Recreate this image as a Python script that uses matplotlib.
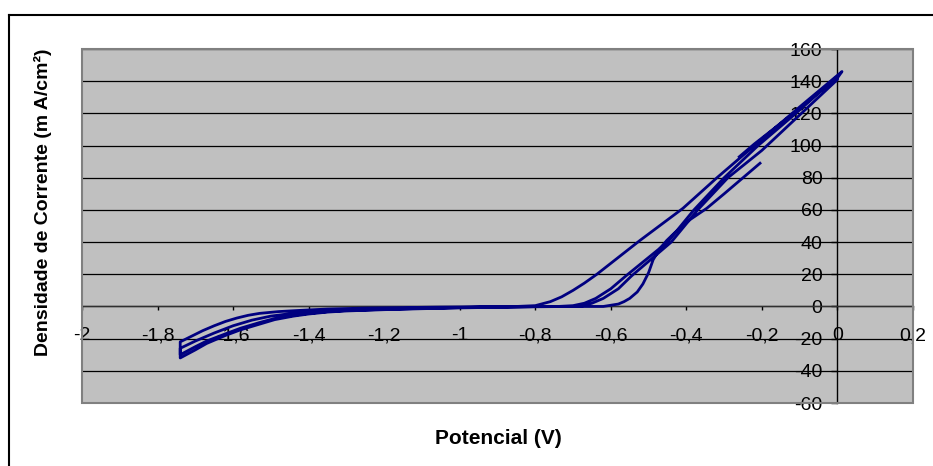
import numpy as np
import matplotlib.pyplot as plt
from matplotlib.ticker import FuncFormatter, MultipleLocator
from matplotlib.patches import Rectangle
from matplotlib.lines import Line2D

plt.rcParams['font.family'] = ['Liberation Sans', 'DejaVu Sans']

### DATA - potential in V, current density in mA/cm2
# start of the record, going up to the vertex
s0_v = [-0.26, -0.22, -0.16, -0.10, -0.05, 0.0, 0.012]
s0_i = [93, 101, 112, 123, 133, 142, 146]

# first return sweep (outermost loop)
rev1_v = [0.012, -0.10, -0.205, -0.319, -0.409, -0.523, -0.637, -0.67, -0.70, -0.73, -0.76, -0.80, -0.85,
          -0.95, -1.05, -1.15, -1.25, -1.35, -1.42, -1.48, -1.53, -1.56, -1.59, -1.62, -1.65, -1.68, -1.71, -1.74]
rev1_i = [146, 124, 103, 80, 61, 41, 20, 14.5, 10, 6, 3, 0.5, 0,
          -0.2, -0.4, -0.7, -1.0, -1.6, -2.4, -3.2, -4.3, -5.5, -7.2, -9.3, -12, -15, -18.5, -22]

# second forward sweep
fwd1_v = [-1.74, -1.70, -1.67, -1.62, -1.58, -1.53, -1.49, -1.44, -1.40, -1.35, -1.30, -1.20, -1.10,
          -1.00, -0.90, -0.80, -0.74, -0.70, -0.67, -0.64, -0.60, -0.56, -0.45, -0.38, -0.30, -0.21, -0.11, 0.0]
fwd1_i = [-30, -25, -21.5, -17, -13.5, -10, -7.5, -5.5, -4.3, -3.2, -2.5, -1.8, -1.2,
          -0.7, -0.3, -0.1, 0, 0.5, 2, 5, 11, 19, 40, 60, 80, 100, 120, 143]

# second return sweep
rev2_v = [0.0, -0.10, -0.20, -0.29, -0.37, -0.44, -0.545, -0.58, -0.62, -0.65, -0.68, -0.80, -0.90, -1.00,
          -1.10, -1.20, -1.30, -1.40, -1.45, -1.50, -1.55, -1.60, -1.65, -1.70, -1.74]
rev2_i = [141, 119, 97, 80, 60, 40, 19, 11, 5, 2, 0, -0.1, -0.3, -0.6,
          -1.0, -1.4, -2.0, -3.5, -4.5, -6, -8.5, -12, -16.5, -21.5, -26]

# last forward sweep (ends before the vertex)
fwd2_v = [-1.74, -1.70, -1.67, -1.62, -1.58, -1.53, -1.49, -1.44, -1.40, -1.35, -1.30, -1.20, -1.10,
          -1.00, -0.90, -0.80, -0.70, -0.62, -0.58, -0.565, -0.55, -0.53, -0.515, -0.50, -0.488, -0.47,
          -0.452, -0.43, -0.39, -0.346, -0.30, -0.25, -0.205]
fwd2_i = [-32, -27, -23, -18, -14.5, -11, -8.2, -6, -4.7, -3.5, -2.8, -2.0, -1.4,
          -0.9, -0.5, -0.2, 0, 0, 1.5, 3, 5, 9, 14, 21, 29, 36,
          41, 46, 54, 61, 70, 80, 89]

potential = np.concatenate([s0_v, rev1_v, fwd1_v, rev2_v, fwd2_v])
current = np.concatenate([s0_i, rev1_i, fwd1_i, rev2_i, fwd2_i])

def comma(v, pos):
    v = round(v, 1)
    if v == 0:
        return '0'
    return ('%g' % v).replace('.', ',')

### FIGURE
fig = plt.figure(figsize=(9.33, 4.66), dpi=100)
ax = fig.add_axes([82/933, 1 - 403/466, 831/933, 354/466])
ax.set_facecolor('#C0C0C0')

ax.plot(potential, current, color='#000080', lw=2.0, zorder=3)

ax.set_xlim(-2, 0.2)
ax.set_ylim(-60, 160)
ax.xaxis.set_major_locator(MultipleLocator(0.2))
ax.yaxis.set_major_locator(MultipleLocator(20))
ax.xaxis.set_major_formatter(FuncFormatter(comma))
ax.yaxis.set_major_formatter(FuncFormatter(comma))

# axes cross at zero, like the spreadsheet chart
ax.spines['left'].set_position(('data', 0))
ax.spines['bottom'].set_position(('data', 0))
ax.spines['top'].set_visible(False)
ax.spines['right'].set_visible(False)
ax.spines['left'].set_color('black')
ax.spines['bottom'].set_color('#303030')
ax.spines['left'].set_linewidth(1.0)
ax.spines['bottom'].set_linewidth(1.0)

ax.yaxis.grid(True, color='black', lw=0.9)
ax.tick_params(axis='x', direction='out', length=3, width=1, pad=12, labelsize=14)
ax.tick_params(axis='y', direction='out', length=4.3, width=1, pad=6.5, labelsize=14)

# plot area frame
ax.add_patch(Rectangle((0, 0), 1, 1, transform=ax.transAxes, fill=False,
                       edgecolor='#808080', lw=1.5, zorder=4, clip_on=False))

fig.text(498/933, 1 - 438/466, 'Potencial (V)', ha='center', va='center',
         fontsize=15, fontweight='bold')
fig.text(43/933, 1 - 202/466, 'Densidade de Corrente (m A/cm²)', ha='center', va='center',
         rotation=90, fontsize=14, fontweight='bold')

# outer chart border (top and left visible)
fig.add_artist(Line2D([9/933, 1], [1 - 15/466, 1 - 15/466], color='black', lw=1.5))
fig.add_artist(Line2D([9/933, 9/933], [0, 1 - 15/466], color='black', lw=1.5))

fig.savefig('out.png', dpi=100)
